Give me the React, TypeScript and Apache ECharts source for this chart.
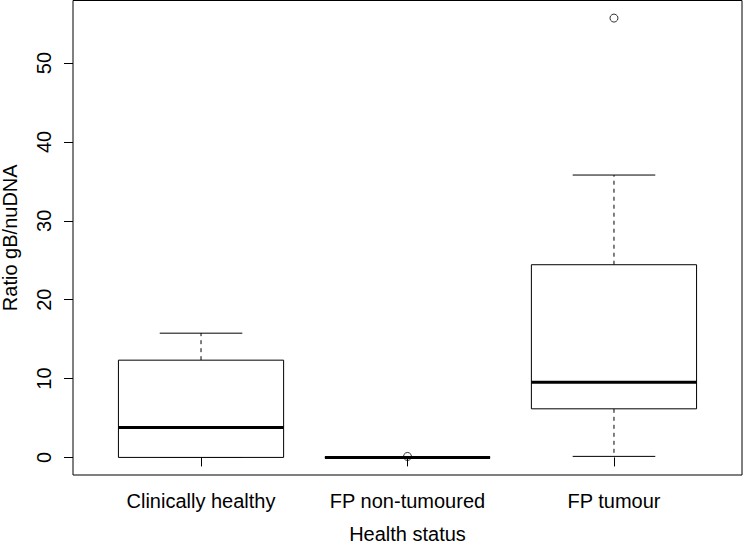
import React, { useEffect, useRef } from "react";
import * as echarts from "echarts";

const categories = ["Clinically healthy", "FP non-tumoured", "FP tumour"];
const lowerWhisker = [0, 0, 0.13];
const q1 = [0, 0, 6.16];
const median = [3.8, 0, 9.54];
const q3 = [12.33, 0, 24.43];
const upperWhisker = [15.75, 0, 35.8];
const outliers: [number, number][] = [
  [2, 0.12],
  [3, 55.7],
];
const yTicks = [0, 10, 20, 30, 40, 50];
const xTicks = [1, 2, 3];

const FONT = "'Liberation Sans', Arial, Helvetica, sans-serif";

export default function App() {
  const ref = useRef<HTMLDivElement>(null);
  useEffect(() => {
    if (!ref.current) return;
    const chart = echarts.init(ref.current, undefined, { renderer: "svg" });
    const boxData = categories.map((_, i) => [
      i + 1,
      lowerWhisker[i],
      q1[i],
      median[i],
      q3[i],
      upperWhisker[i],
    ]);
    const option: any = {
      animation: false,
      backgroundColor: "#ffffff",
      grid: {
        left: 73,
        right: 1,
        top: 0.5,
        bottom: 71,
        containLabel: false,
        outerBoundsMode: "none",
        show: true,
        borderColor: "#000",
        borderWidth: 1,
        backgroundColor: "transparent",
      },
      xAxis: {
        type: "value",
        min: 0.38,
        max: 3.62,
        name: "Health status",
        nameLocation: "middle",
        nameGap: 49,
        nameTextStyle: { fontFamily: FONT, fontSize: 20, color: "#000" },
        axisLine: { show: false },
        splitLine: { show: false },
        axisTick: {
          show: true,
          length: 9,
          customValues: xTicks,
          lineStyle: { color: "#000", width: 1 },
        },
        axisLabel: {
          customValues: xTicks,
          margin: 16,
          fontFamily: FONT,
          fontSize: 20,
          color: "#000",
          formatter: (v: number) => categories[Math.round(v) - 1] ?? "",
        },
      },
      yAxis: {
        type: "value",
        min: -2.23,
        max: 57.93,
        name: "Ratio gB/nuDNA",
        nameLocation: "middle",
        nameGap: 53,
        nameRotate: 90,
        nameTextStyle: { fontFamily: FONT, fontSize: 20, color: "#000" },
        axisLine: { show: false },
        splitLine: { show: false },
        axisTick: {
          show: true,
          length: 9,
          customValues: yTicks,
          lineStyle: { color: "#000", width: 1 },
        },
        axisLabel: {
          customValues: yTicks,
          rotate: 90,
          margin: 19,
          fontFamily: FONT,
          fontSize: 20,
          color: "#000",
        },
      },
      series: [
        {
          type: "custom",
          data: boxData,
          encode: { x: 0, y: [1, 2, 3, 4, 5] },
          renderItem: (params: any, api: any) => {
            const x = api.value(0);
            const lo = api.value(1);
            const a = api.value(2);
            const m = api.value(3);
            const b = api.value(4);
            const hi = api.value(5);
            const bw = 0.4;
            const cw = 0.2;
            const pTL = api.coord([x - bw, b]);
            const pBR = api.coord([x + bw, a]);
            const pc = (xx: number, yy: number) => api.coord([xx, yy]);
            const stroke = { stroke: "#000", lineWidth: 1, fill: "none" };
            const dashed = { stroke: "#000", lineWidth: 1, lineDash: [4, 4] };
            const line = (p1: number[], p2: number[], style: any) => ({
              type: "line",
              shape: { x1: p1[0], y1: p1[1], x2: p2[0], y2: p2[1] },
              style,
            });
            return {
              type: "group",
              children: [
                line(pc(x, b), pc(x, hi), dashed),
                line(pc(x, a), pc(x, lo), dashed),
                line(pc(x - cw, hi), pc(x + cw, hi), stroke),
                line(pc(x - cw, lo), pc(x + cw, lo), stroke),
                {
                  type: "rect",
                  shape: {
                    x: pTL[0],
                    y: pTL[1],
                    width: pBR[0] - pTL[0],
                    height: pBR[1] - pTL[1],
                  },
                  style: { stroke: "#000", lineWidth: 1, fill: "#fff" },
                },
                line(pc(x - bw, m), pc(x + bw, m), {
                  stroke: "#000",
                  lineWidth: 3,
                }),
              ],
            };
          },
          z: 2,
        },
        {
          type: "scatter",
          data: outliers,
          symbol: "circle",
          symbolSize: 8,
          itemStyle: { color: "rgba(255,255,255,0)", borderColor: "#000", borderWidth: 1 },
          z: 3,
        },
      ],
    };
    chart.setOption(option);
    return () => chart.dispose();
  }, []);
  return (
    <div
      ref={ref}
      style={{ position: "absolute", left: 0, top: 0, width: 743, height: 546 }}
    />
  );
}
